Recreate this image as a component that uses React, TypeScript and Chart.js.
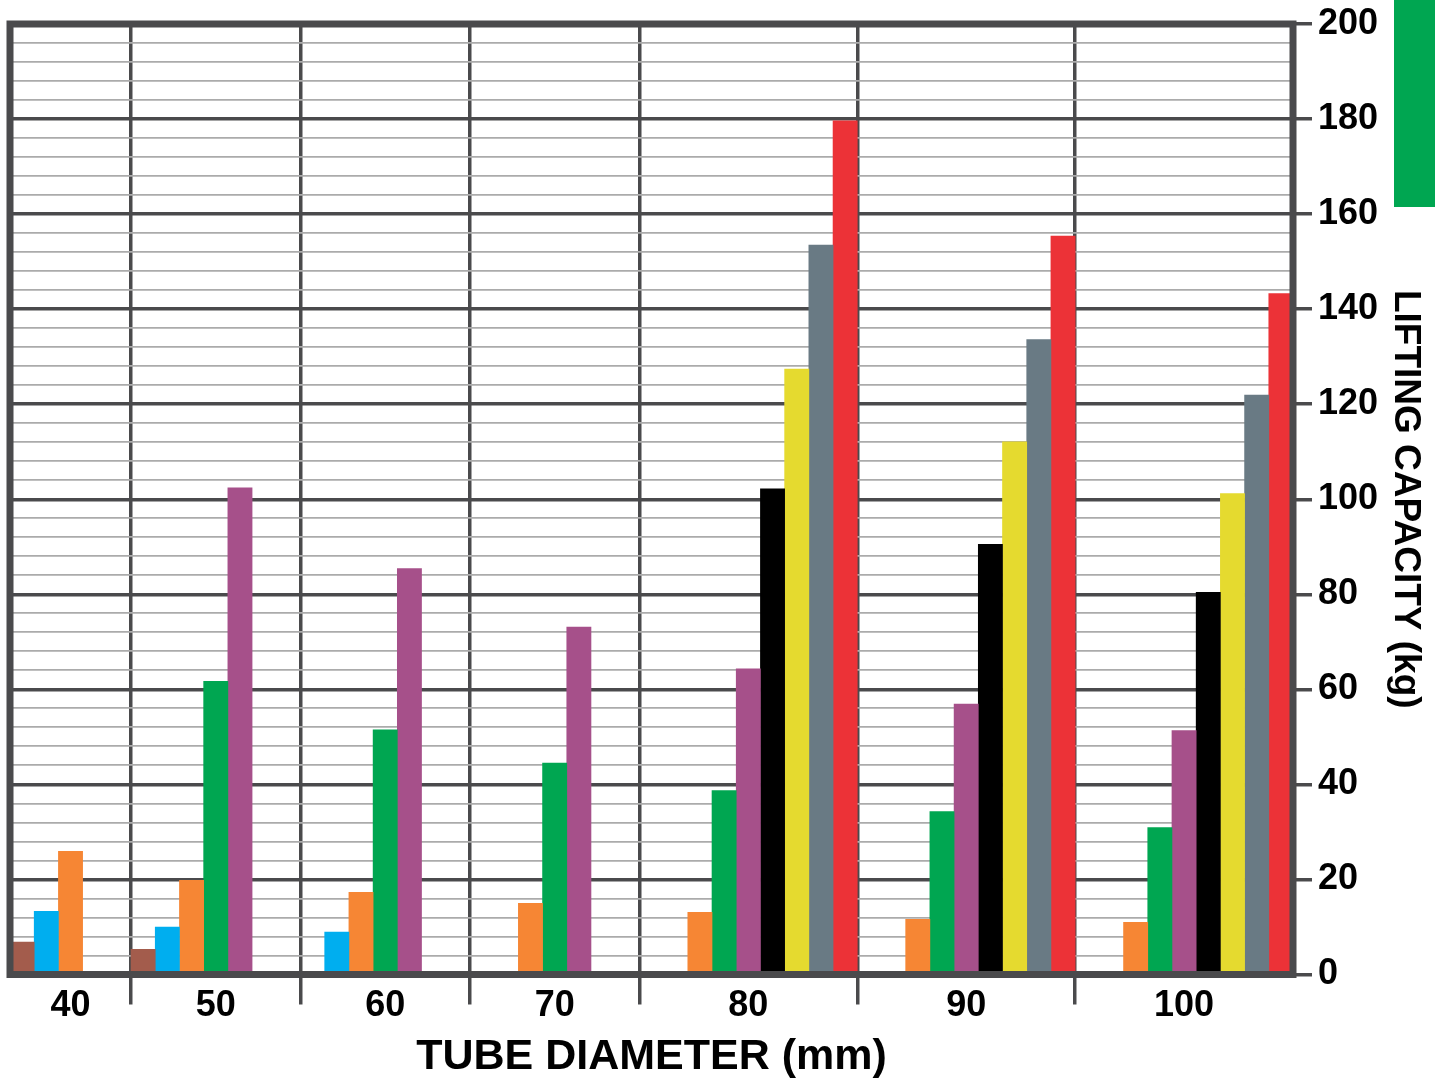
import React, { useEffect, useRef } from 'react';
import { Chart, registerables } from 'chart.js';

Chart.register(...registerables);

// ---- data ----
const categories = ['40', '50', '60', '70', '80', '90', '100'];
// number of bar slots each diameter group occupies (series order below)
const slotsPerCategory = [5, 7, 7, 7, 9, 9, 9];

const brown = [6.8, 5.3, null, null, null, null, null];
const blue = [13.3, 10.0, 8.9, null, null, null, null];
const orange = [25.9, 19.8, 17.3, 15.0, 13.1, 11.6, 11.0];
const green = [null, 61.7, 51.5, 44.5, 38.7, 34.3, 30.9];
const purple = [null, 102.4, 85.4, 73.1, 64.3, 56.9, 51.3];
const black = [null, null, null, null, 102.2, 90.5, 80.4];
const yellow = [null, null, null, null, 127.4, 112.1, 101.2];
const gray = [null, null, null, null, 153.5, 133.6, 121.9];
const red = [null, null, null, null, 179.6, 155.4, 143.3];

const seriesValues = [brown, blue, orange, green, purple, black, yellow, gray, red];
const seriesColors = ['#a35c4c', '#00aeef', '#f68634', '#00a651', '#a6508a', '#000000', '#e5da2f', '#697a84', '#ec3237'];

const yMin = 0;
const yMax = 200;
const yMajorStep = 20;
const yMinorStep = 4;

const xTitle = 'TUBE DIAMETER (mm)';
const yTitle = 'LIFTING CAPACITY (kg)';

// ---- styles ----
const FONT = "'Liberation Sans', Arial, Helvetica, sans-serif";
const DARK = '#4a4a4c';
const LIGHT = '#ababab';

export default function App() {
  const canvasRef = useRef<HTMLCanvasElement | null>(null);

  useEffect(() => {
    if (!canvasRef.current) return;

    // build slot labels & boundaries
    const slotLabels: string[] = [];
    const starts: number[] = [];
    const boundaries = new Set<number>();
    let pos = 0;
    categories.forEach((cat, c) => {
      starts.push(pos);
      const n = slotsPerCategory[c];
      for (let i = 0; i < n; i++) {
        slotLabels.push(i === Math.floor(n / 2) ? cat : '');
      }
      pos += n;
      if (c < categories.length - 1) boundaries.add(pos);
    });
    const totalSlots = pos;

    const datasets = seriesValues.map((vals, s) => {
      const data: (number | null)[] = new Array(totalSlots).fill(null);
      categories.forEach((_, c) => {
        if (s < slotsPerCategory[c]) data[starts[c] + s] = vals[c];
      });
      return {
        label: 'series' + s,
        data,
        backgroundColor: seriesColors[s],
        borderWidth: 0,
        grouped: false,
        barPercentage: 1,
        categoryPercentage: 1,
      };
    });

    const framePlugin = {
      id: 'frame',
      afterDatasetsDraw(chart: any) {
        const { ctx, chartArea: a } = chart;
        ctx.save();
        ctx.strokeStyle = DARK;
        ctx.lineWidth = 7;
        ctx.strokeRect(a.left, a.top, a.right - a.left, a.bottom - a.top);
        ctx.restore();
      },
    };

    const chart = new Chart(canvasRef.current, {
      type: 'bar',
      data: { labels: slotLabels, datasets: datasets as any },
      options: {
        animation: false,
        responsive: true,
        maintainAspectRatio: false,
        layout: { padding: { left: 10, top: 20.5, right: 0, bottom: 0 } },
        plugins: {
          legend: { display: false },
          tooltip: { enabled: false },
        },
        scales: {
          x: {
            type: 'category',
            offset: true,
            border: { display: false },
            grid: {
              offset: true,
              drawTicks: true,
              tickLength: 30,
              lineWidth: 3.5,
              tickWidth: 3.5,
              color: (ctx: any) => (boundaries.has(ctx.index) ? DARK : 'rgba(0,0,0,0)'),
              tickColor: (ctx: any) => (boundaries.has(ctx.index) ? DARK : 'rgba(0,0,0,0)'),
            },
            ticks: {
              autoSkip: false,
              maxRotation: 0,
              minRotation: 0,
              padding: -16.5,
              color: '#000',
              font: { family: FONT, size: 36, weight: 'bold', lineHeight: 1 },
            },
            title: {
              display: true,
              text: xTitle,
              color: '#000',
              padding: { top: 0, bottom: 0 },
              font: { family: FONT, size: 43, weight: 'bold', lineHeight: 1.1 },
            },
            afterFit: (scale: any) => {
              scale.height = 106.5;
            },
          },
          y: {
            type: 'linear',
            position: 'right',
            min: yMin,
            max: yMax,
            border: { display: false },
            grid: {
              drawTicks: true,
              tickLength: 19,
              tickWidth: 3.5,
              lineWidth: (ctx: any) => (ctx.tick && ctx.tick.value % yMajorStep === 0 ? 3.5 : 1.8),
              color: (ctx: any) => (ctx.tick && ctx.tick.value % yMajorStep === 0 ? DARK : LIGHT),
              tickColor: (ctx: any) => (ctx.tick && ctx.tick.value % yMajorStep === 0 ? DARK : 'rgba(0,0,0,0)'),
            },
            ticks: {
              stepSize: yMinorStep,
              autoSkip: false,
              padding: 6,
              color: '#000',
              font: { family: FONT, size: 36, weight: 'bold', lineHeight: 1 },
              callback: (v: any) => (Number(v) % yMajorStep === 0 ? String(v) : ''),
            },
            title: {
              display: true,
              text: yTitle,
              color: '#000',
              padding: { top: 8, bottom: 0 },
              font: { family: FONT, size: 37, weight: 'bold', lineHeight: 1.2 },
            },
            afterFit: (scale: any) => {
              scale.width = 142;
            },
          },
        },
      },
      plugins: [framePlugin],
    });

    return () => chart.destroy();
  }, []);

  return (
    <div style={{ position: 'fixed', left: 0, top: 0, width: 1435, height: 1081, background: '#fff' }}>
      <canvas ref={canvasRef} />
      <div
        style={{
          position: 'absolute',
          left: 1394,
          top: 0,
          width: 41,
          height: 207,
          background: '#00a651',
        }}
      />
    </div>
  );
}
